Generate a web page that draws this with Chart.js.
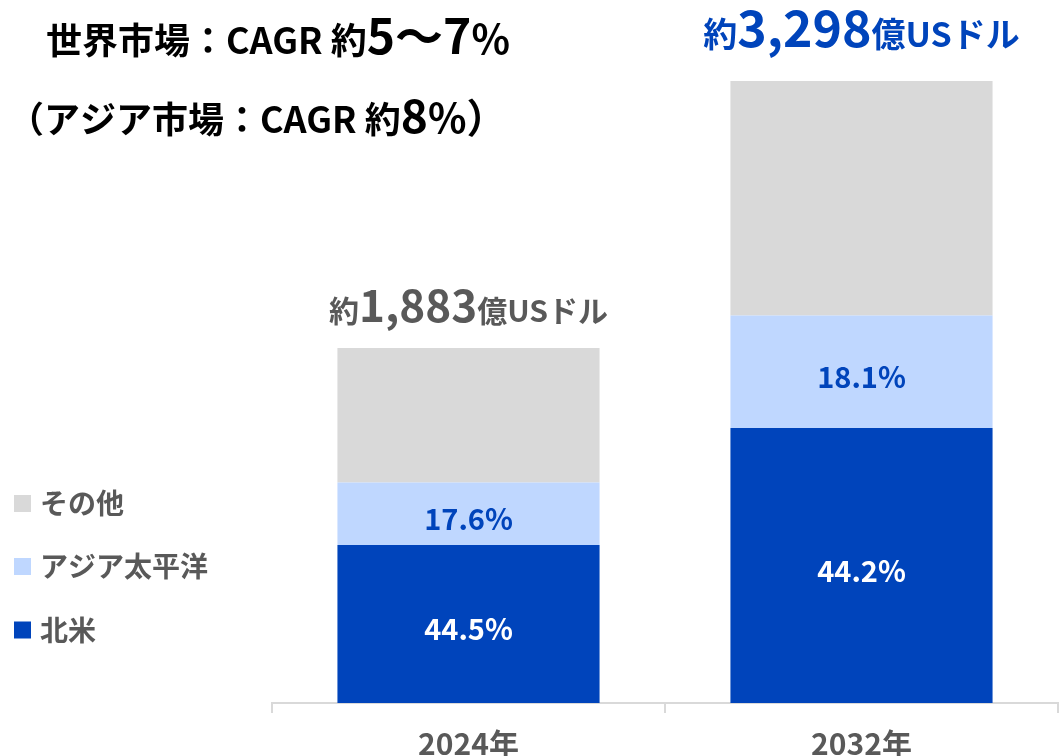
<!DOCTYPE html>
<html><head><meta charset="utf-8">
<script src="https://cdn.jsdelivr.net/npm/chart.js@4/dist/chart.umd.min.js"></script>
<style>
html,body{margin:0;padding:0;background:#fff;overflow:hidden;}
#wrap{position:relative;width:1061px;height:775px;}
</style></head>
<body><div id="wrap"><canvas id="c"></canvas></div>
<script>
const categories = ['2024年', '2032年'];
const totals = [1883, 3298];
const totalLabels = ['1,883', '3,298'];
const shareNorthAmerica = [44.5, 44.2];
const shareAsiaPacific = [17.6, 18.1];
const shareOther = [37.9, 37.7];
const seriesNames = ['北米', 'アジア太平洋', 'その他'];

const FONT = '"Noto Sans CJK JP", "Noto Sans", sans-serif';
const GRAY_TEXT = '#595959';
const BLUE = '#0044BB';

const toValues = shares => shares.map((s, i) => totals[i] * s / 100);

function drawRich(ctx, parts, x, y, align, color) {
  let w = 0;
  parts.forEach(p => { ctx.font = 'bold ' + p.size + 'px ' + FONT; p.w = ctx.measureText(p.text).width; w += p.w; });
  let cx = align === 'center' ? x - w / 2 : x;
  ctx.fillStyle = color;
  ctx.textBaseline = 'alphabetic';
  ctx.textAlign = 'left';
  parts.forEach(p => { ctx.font = 'bold ' + p.size + 'px ' + FONT; ctx.fillText(p.text, cx, y); cx += p.w; });
}

const totalStyle = [
  {color: GRAY_TEXT, small: 30, big: 44, gap: 26},
  {color: BLUE, small: 34, big: 50, gap: 34}
];

const labelPlugin = {
  id: 'labels',
  afterDatasetsDraw(chart) {
    const ctx = chart.ctx;
    ctx.save();
    // segment percentage labels
    chart.data.datasets.forEach((ds, di) => {
      if (!ds.labelColor) return;
      const meta = chart.getDatasetMeta(di);
      meta.data.forEach((bar, i) => {
        ctx.font = 'bold 29px ' + FONT;
        ctx.fillStyle = ds.labelColor;
        ctx.textAlign = 'center';
        ctx.textBaseline = 'middle';
        ctx.fillText(ds.shares[i].toFixed(1) + '%', bar.x, (bar.y + bar.base) / 2 + 5);
      });
    });
    // totals
    const top = chart.getDatasetMeta(chart.data.datasets.length - 1);
    top.data.forEach((bar, i) => {
      const st = totalStyle[i];
      drawRich(ctx, [{text: '約', size: st.small}, {text: totalLabels[i], size: st.big}, {text: '億USドル', size: st.small}],
        bar.x, bar.y - st.gap, 'center', st.color);
    });
    // titles
    drawRich(ctx, [{text: '世界市場：CAGR 約', size: 36}, {text: '5～7', size: 48}, {text: '%', size: 40}], 46, 54, 'left', '#000');
    drawRich(ctx, [{text: '（アジア市場：CAGR 約', size: 36}, {text: '8', size: 46}, {text: '%）', size: 40}], 8, 133, 'left', '#000');
    // legend
    const legendRows = [503.5, 566.5, 630];
    const dsOrder = [2, 1, 0];
    dsOrder.forEach((di, r) => {
      const ds = chart.data.datasets[di];
      ctx.fillStyle = ds.backgroundColor;
      ctx.fillRect(14, legendRows[r] - 8.5, 17, 17);
      ctx.font = 'bold 28px ' + FONT;
      ctx.fillStyle = GRAY_TEXT;
      ctx.textAlign = 'left';
      ctx.textBaseline = 'middle';
      ctx.fillText(ds.label, 40, legendRows[r]);
    });
    ctx.restore();
  }
};

new Chart(document.getElementById('c'), {
  type: 'bar',
  data: {
    labels: categories,
    datasets: [
      {label: seriesNames[0], data: toValues(shareNorthAmerica), shares: shareNorthAmerica, backgroundColor: BLUE, labelColor: '#ffffff'},
      {label: seriesNames[1], data: toValues(shareAsiaPacific), shares: shareAsiaPacific, backgroundColor: '#BFD7FF', labelColor: BLUE},
      {label: seriesNames[2], data: toValues(shareOther), shares: shareOther, backgroundColor: '#D9D9D9'}
    ]
  },
  options: {
    responsive: true,
    maintainAspectRatio: false,
    animation: false,
    layout: {padding: {left: 272, right: 3, top: 43, bottom: 0}},
    plugins: {legend: {display: false}, tooltip: {enabled: false}},
    datasets: {bar: {barPercentage: 0.667, categoryPercentage: 1.0, borderWidth: 0}},
    scales: {
      x: {
        stacked: true,
        grid: {offset: true, drawOnChartArea: false, drawTicks: true, tickLength: 10, color: '#D9D9D9', lineWidth: 2},
        border: {display: true, color: '#D9D9D9', width: 2},
        ticks: {color: GRAY_TEXT, font: {family: FONT, size: 30, weight: 'bold'}, padding: 13}
      },
      y: {stacked: true, display: false, min: 0, max: 3500}
    }
  },
  plugins: [labelPlugin]
});
</script></body></html>
